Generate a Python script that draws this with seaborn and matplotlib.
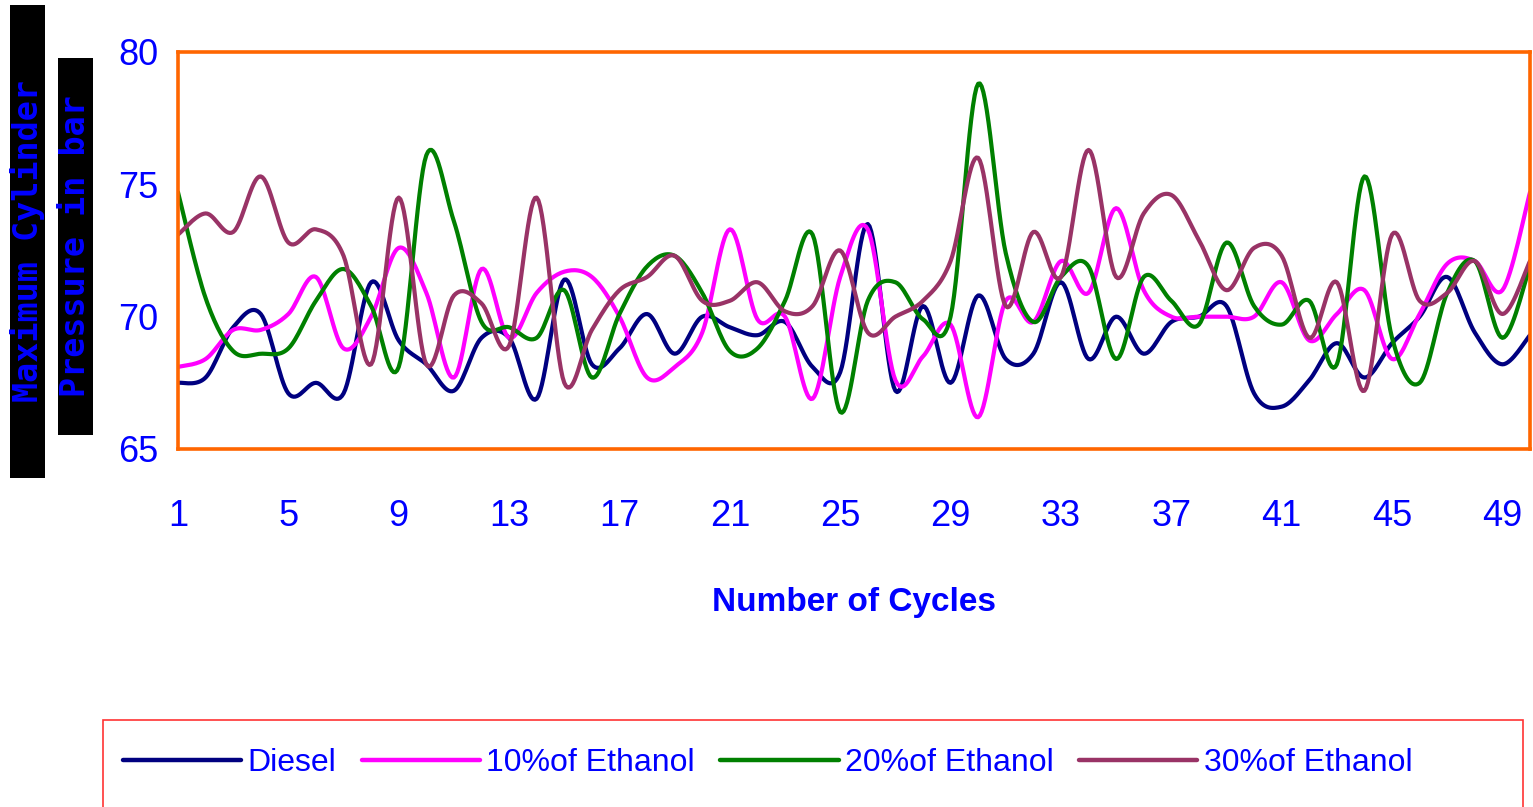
import numpy as np
import pandas as pd
import seaborn as sns
import matplotlib
matplotlib.use("Agg")
import matplotlib.pyplot as plt
from matplotlib.patches import Rectangle
from matplotlib.lines import Line2D

# cycle-by-cycle max cylinder pressure (bar)
cycles = list(range(1, 51))
diesel = [67.5, 67.7, 69.6, 70.1, 67.1, 67.5, 67.1, 71.3, 69.1, 68.2,
          67.2, 69.2, 69.2, 66.9, 71.4, 68.2, 68.8, 70.1, 68.6, 70.0,
          69.6, 69.3, 69.8, 68.1, 67.9, 73.5, 67.2, 70.4, 67.5, 70.8,
          68.4, 68.6, 71.3, 68.4, 70.0, 68.6, 69.8, 70.0, 70.4, 67.1,
          66.6, 67.6, 69.0, 67.7, 69.0, 70.0, 71.5, 69.4, 68.2, 69.3]
eth10 = [68.1, 68.4, 69.5, 69.5, 70.1, 71.5, 68.8, 70.0, 72.6, 70.9,
         67.7, 71.8, 69.2, 70.9, 71.7, 71.5, 70.0, 67.7, 68.1, 69.4,
         73.3, 69.9, 70.0, 66.9, 71.5, 73.3, 67.6, 68.5, 69.7, 66.2,
         70.6, 69.8, 72.1, 70.9, 74.1, 71.0, 70.0, 70.0, 70.0, 70.0,
         71.3, 69.1, 70.1, 71.0, 68.4, 70.1, 72.0, 72.1, 71.0, 74.7]
eth20 = [74.7, 70.7, 68.7, 68.6, 68.8, 70.6, 71.8, 70.4, 68.1, 76.1,
         73.6, 69.8, 69.6, 69.2, 71.0, 67.7, 70.1, 71.9, 72.3, 70.9,
         68.7, 68.8, 70.6, 73.1, 66.4, 70.6, 71.3, 69.9, 70.0, 78.8,
         72.4, 69.8, 71.5, 71.9, 68.4, 71.5, 70.6, 69.7, 72.8, 70.4,
         69.7, 70.6, 68.2, 75.3, 69.2, 67.5, 70.9, 72.1, 69.2, 71.9]
eth30 = [73.1, 73.9, 73.2, 75.3, 72.8, 73.3, 72.3, 68.2, 74.5, 68.2,
         70.8, 70.5, 68.9, 74.5, 67.5, 69.5, 71.0, 71.5, 72.3, 70.6,
         70.6, 71.3, 70.2, 70.4, 72.5, 69.4, 70.0, 70.6, 72.1, 76.0,
         70.4, 73.2, 71.5, 76.3, 71.5, 73.9, 74.6, 72.9, 71.0, 72.6,
         72.3, 69.2, 71.3, 67.2, 73.1, 70.6, 70.9, 72.1, 70.1, 72.1]

labels = ["Diesel", "10%of Ethanol", "20%of Ethanol", "30%of Ethanol"]
colors = ["#000080", "#FF00FF", "#008000", "#993366"]
series = [diesel, eth10, eth20, eth30]
xticks = list(range(1, 50, 4))


def smooth(x, y, n=16):
    # Excel style "smoothed line" (Catmull-Rom bezier through the points)
    x = np.asarray(x, float)
    y = np.asarray(y, float)
    px = np.r_[x[0], x, x[-1]]
    py = np.r_[y[0], y, y[-1]]
    xs, ys = [], []
    t = np.linspace(0, 1, n, endpoint=False)
    for i in range(1, len(x)):
        p0, p1, p2, p3 = py[i - 1], py[i], py[i + 1], py[i + 2]
        q0, q1, q2, q3 = px[i - 1], px[i], px[i + 1], px[i + 2]
        c1y, c2y = p1 + (p2 - p0) / 6, p2 - (p3 - p1) / 6
        c1x, c2x = q1 + (q2 - q0) / 6, q2 - (q3 - q1) / 6
        b = [(1 - t) ** 3, 3 * (1 - t) ** 2 * t, 3 * (1 - t) * t ** 2, t ** 3]
        xs.append(b[0] * q1 + b[1] * c1x + b[2] * c2x + b[3] * q2)
        ys.append(b[0] * p1 + b[1] * c1y + b[2] * c2y + b[3] * p2)
    xs.append([x[-1]])
    ys.append([y[-1]])
    return np.concatenate(xs), np.concatenate(ys)


frames = []
for lab, vals in zip(labels, series):
    sx, sy = smooth(cycles, vals)
    frames.append(pd.DataFrame({"cycle": sx, "pressure": sy, "fuel": lab}))
df = pd.concat(frames, ignore_index=True)

sns.set_style("white")
plt.rcParams["font.family"] = ["Liberation Sans", "DejaVu Sans"]

W, H = 1533, 807
fig = plt.figure(figsize=(W / 100, H / 100), dpi=100)
ax = fig.add_axes([178 / W, 1 - 449 / H, (1530 - 178) / W, (449 - 52) / H])

sns.lineplot(data=df, x="cycle", y="pressure", hue="fuel", palette=colors,
             sort=False, estimator=None, linewidth=3.0, legend=False, ax=ax)

ax.set_xlim(1, 50)
ax.set_ylim(65, 80)
ax.set_xticks(xticks)
ax.set_yticks([65, 70, 75, 80])
ax.set_xlabel("Number of Cycles", fontsize=24, fontweight="bold", color="#0000FF",
              labelpad=38)
ax.set_ylabel("")
for s in ax.spines.values():
    s.set_color("#FF6600")
    s.set_linewidth(2.6)
ax.tick_params(axis="x", direction="out", length=6, width=1, color="#FF9955",
               labelcolor="#0000FF", labelsize=26, pad=30)
ax.tick_params(axis="y", direction="out", length=6, width=1, color="#FF9955",
               labelcolor="#0000FF", labelsize=26, pad=8)

# y label: two black boxes with blue rotated text
for (x0, x1, y0, y1, txt) in [(10, 45, 5, 478, "Maximum Cylinder"),
                              (58, 93, 58, 435, "Pressure in bar")]:
    fig.patches.append(Rectangle((x0 / W, 1 - y1 / H), (x1 - x0) / W, (y1 - y0) / H,
                                 transform=fig.transFigure, facecolor="black",
                                 edgecolor="none", zorder=0))
    fig.text((x0 + x1) / 2 / W, 1 - (y0 + y1) / 2 / H, txt, rotation=90,
             ha="center", va="center", color="#0000FF", fontsize=24,
             fontweight="bold", family=["DejaVu Sans Mono", "DejaVu Sans"])

# legend with red frame
fig.patches.append(Rectangle((103 / W, -0.01), (1523 - 103) / W, 1 - 720 / H + 0.01,
                             transform=fig.transFigure, facecolor="white",
                             edgecolor="#FF3333", linewidth=1.2, zorder=0))
handles = [Line2D([], [], color=c, linewidth=3.2) for c in colors]
leg = fig.legend(handles, labels, loc="center left", bbox_to_anchor=(94 / W, 1 - 763 / H),
                 ncol=4, frameon=False, fontsize=23, handlelength=3.7,
                 handletextpad=0.2, columnspacing=0.8)
for t in leg.get_texts():
    t.set_color("#0000FF")

fig.savefig("out.png", dpi=100)
